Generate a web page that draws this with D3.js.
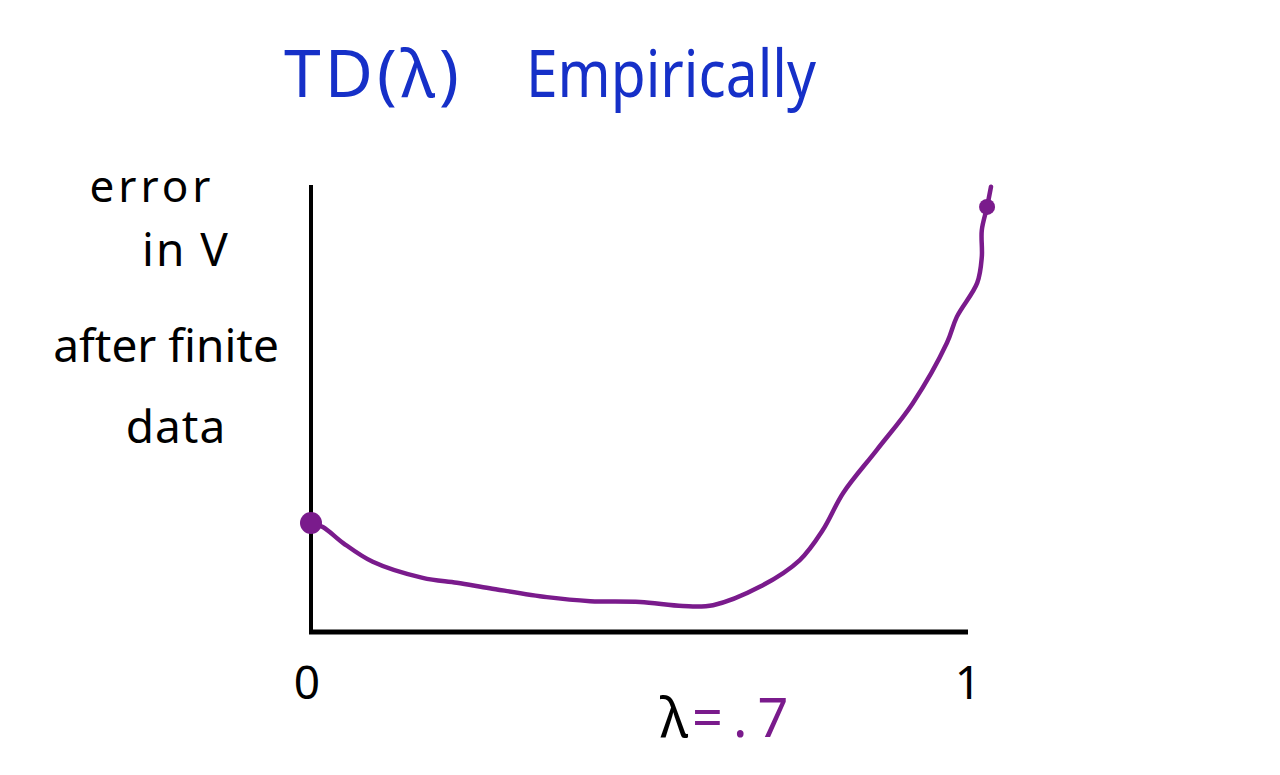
<!DOCTYPE html>
<html>
<head>
<meta charset="utf-8">
<script src="https://cdn.jsdelivr.net/npm/d3@7/dist/d3.min.js"></script>
<style>
  html, body { margin: 0; padding: 0; background: #fff; }
  svg { display: block; }
</style>
</head>
<body>
<script>
// ---- data ----
const lambdaValues = [0, 0.018, 0.049, 0.094, 0.170, 0.222, 0.272, 0.359, 0.425, 0.501, 0.566, 0.612, 0.683, 0.744, 0.779, 0.810, 0.861, 0.916, 0.968, 0.983, 1.014, 1.021, 1.021, 1.029, 1.035];
const errorValues  = [0.244, 0.235, 0.199, 0.157, 0.121, 0.110, 0.098, 0.078, 0.069, 0.067, 0.058, 0.060, 0.101, 0.161, 0.228, 0.311, 0.407, 0.512, 0.647, 0.705, 0.781, 0.839, 0.899, 0.951, 0.996];
const markedLambda = [0, 1.029];
const markedError  = [0.244, 0.951];
const xTickValues  = [0, 1];
const xTickLabels  = ["0", "1"];
const titleParts   = ["TD(λ)", "Empirically"];
const yLabelLines  = ["error", "in V", "after finite", "data"];
const noteParts    = ["λ", "=.7"];

// ---- layout ----
const W = 1280, H = 775;
const svg = d3.select("body").append("svg").attr("width", W).attr("height", H);

const x = d3.scaleLinear().domain([0, 1]).range([311, 968]);
const y = d3.scaleLinear().domain([0, 1]).range([632, 185]);

const hand = "'Noto Sans', 'Open Sans', sans-serif";
const blue = "#1630c8";
const purple = "#7a1b8c";

// title
svg.append("text").attr("x", 284).attr("y", 97)
  .attr("font-family", hand).attr("font-size", 66).attr("fill", blue)
  .attr("letter-spacing", 4).text(titleParts[0]);
svg.append("text").attr("x", 526).attr("y", 97)
  .attr("font-family", hand).attr("font-size", 66).attr("fill", blue)
  .attr("textLength", 290).attr("lengthAdjust", "spacingAndGlyphs")
  .text(titleParts[1]);

// y label
const yLab = [
  {x: 152, y: 202, fs: 44, ls: 4},
  {x: 186, y: 266, fs: 46, ls: 2},
  {x: 166, y: 362, fs: 46, ls: 0},
  {x: 176, y: 443, fs: 46, ls: 1}
];
yLabelLines.forEach((t, i) => {
  svg.append("text").attr("x", yLab[i].x).attr("y", yLab[i].y)
    .attr("text-anchor", "middle").attr("font-family", hand)
    .attr("font-size", yLab[i].fs).attr("letter-spacing", yLab[i].ls)
    .attr("fill", "#000").text(t);
});

// axes
svg.append("line").attr("x1", x(0)).attr("x2", x(0))
  .attr("y1", y(1)).attr("y2", y(0) + 2)
  .attr("stroke", "#000").attr("stroke-width", 4);
svg.append("line").attr("x1", x(0) - 2).attr("x2", x(1))
  .attr("y1", y(0)).attr("y2", y(0))
  .attr("stroke", "#000").attr("stroke-width", 5);

// ticks labels
const tickShift = [-4, 0];
xTickValues.forEach((v, i) => {
  svg.append("text").attr("x", x(v) + tickShift[i]).attr("y", 699)
    .attr("text-anchor", "middle").attr("font-family", hand)
    .attr("font-size", 46).attr("fill", "#000").text(xTickLabels[i]);
});

// lambda note
const note = svg.append("text").attr("x", 660).attr("y", 737)
  .attr("font-family", hand).attr("font-size", 54);
note.append("tspan").attr("fill", "#000").text(noteParts[0]);
note.append("tspan").attr("fill", purple).attr("dx", 4)
  .attr("letter-spacing", 10).text(noteParts[1]);

// curve
const pts = lambdaValues.map((l, i) => [l, errorValues[i]]);
const line = d3.line().x(d => x(d[0])).y(d => y(d[1])).curve(d3.curveCatmullRom.alpha(0.5));
svg.append("path").attr("d", line(pts)).attr("fill", "none")
  .attr("stroke", purple).attr("stroke-width", 4.5)
  .attr("stroke-linecap", "round").attr("stroke-linejoin", "round");

// marked points
const radii = [11, 8];
markedLambda.forEach((l, i) => {
  svg.append("circle").attr("cx", x(l)).attr("cy", y(markedError[i]))
    .attr("r", radii[i]).attr("fill", purple);
});
</script>
</body>
</html>
